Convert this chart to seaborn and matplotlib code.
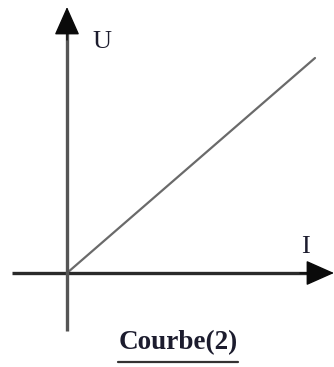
import matplotlib
matplotlib.use("Agg")
import matplotlib.pyplot as plt
from matplotlib.lines import Line2D
import seaborn as sns
import pandas as pd

# Data
current_I = [0, 10]
voltage_U = [0, 10]
axis_label_x = "I"
axis_label_y = "U"
caption = "Courbe(2)"

sns.set_style("white")
plt.rcParams["font.family"] = ["Liberation Serif", "DejaVu Serif"]

W, H = 334, 367
fig = plt.figure(figsize=(W / 100, H / 100), dpi=100)
ax = fig.add_axes([0, 0, 1, 1])

# pixel mapping: origin at (67, 273); I=10 -> x=315 ; U=10 -> y=58
ox, oy = 67.0, 273.0
sx = (315 - ox) / 10.0
sy = (oy - 58) / 10.0
ax.set_xlim(-ox / sx, (W - ox) / sx)
ax.set_ylim(-(H - oy) / sy, oy / sy)

df = pd.DataFrame({"I": current_I, "U": voltage_U})
sns.lineplot(data=df, x="I", y="U", ax=ax, color="#6a6a6a", linewidth=1.6)

def px2d(x, y):
    return ((x - ox) / sx, (oy - y) / sy)

arrow_style = "-|>,head_length=0.9,head_width=0.40"
# axis lines
hx = [px2d(12, oy)[0], px2d(318, oy)[0]]
ax.plot(hx, [0, 0], color="#2a2a2a", lw=2.4, solid_capstyle="butt")
vy = [px2d(ox, 331)[1], px2d(ox, 30)[1]]
ax.plot([0, 0], vy, color="#555555", lw=2.4, solid_capstyle="butt")
# arrow heads
ax.annotate("", xy=px2d(334, oy), xytext=px2d(300, oy),
            arrowprops=dict(arrowstyle=arrow_style, lw=1.0, color="#0a0a0a",
                            mutation_scale=20, shrinkA=0, shrinkB=0))
ax.annotate("", xy=px2d(ox, 7), xytext=px2d(ox, 40),
            arrowprops=dict(arrowstyle=arrow_style, lw=1.0, color="#0a0a0a",
                            mutation_scale=20, shrinkA=0, shrinkB=0))

txt_col = "#1c1c2e"
ax.text(*px2d(102, 42), axis_label_y, fontsize=19, color=txt_col,
        ha="center", va="center")
ax.text(*px2d(305.5, 247), axis_label_x, fontsize=19, color=txt_col,
        ha="center", va="center")
ax.text(*px2d(178, 343), caption, fontsize=19.5, fontweight="bold",
        color=txt_col, ha="center", va="center")
# underline of caption
fig.add_artist(Line2D([118 / W, 238 / W], [1 - 362 / H, 1 - 362 / H],
                      color="#333333", linewidth=1.6))

ax.set_xlabel("")
ax.set_ylabel("")
ax.set_xticks([])
ax.set_yticks([])
for s in ax.spines.values():
    s.set_visible(False)

fig.savefig("out.png", dpi=100)
